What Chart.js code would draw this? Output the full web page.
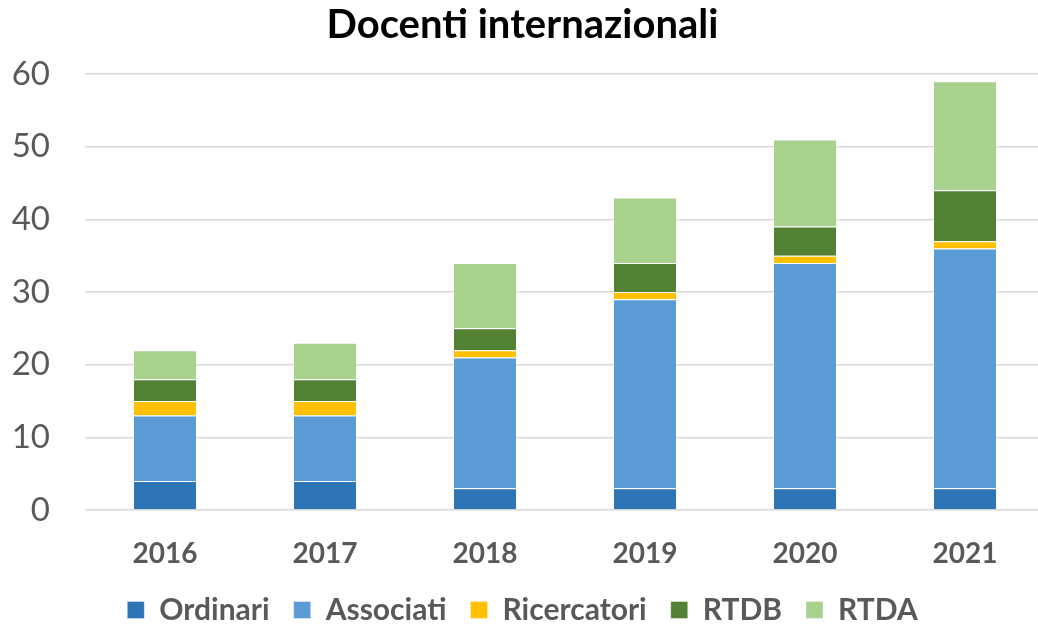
<!DOCTYPE html>
<html lang="it">
<head>
    <meta charset="UTF-8">
    <title>Docenti internazionali</title>
    <script src="https://cdn.jsdelivr.net/npm/chart.js@4.4.1/dist/chart.umd.min.js"></script>
    <style>
        html, body { margin: 0; background: #fff; overflow: hidden; }
        #wrap { width: 1045px; height: 627px; }
    </style>
</head>
<body>
<div id="wrap"><canvas id="myChart"></canvas></div>
<script>

    const anni = ["2016", "2017", "2018", "2019", "2020", "2021"];
    const ordinari = [4, 4, 3, 3, 3, 3];
    const associati = [9, 9, 18, 26, 31, 33];
    const ricercatori = [2, 2, 1, 1, 1, 1];
    const rtdb = [3, 3, 3, 4, 4, 7];
    const rtda = [4, 5, 9, 9, 12, 15];
    const yTicks = [0, 10, 20, 30, 40, 50, 60];

    const FONT = "Lato, 'Open Sans', sans-serif";
    const GREY = "#595959";

    function serie(label, data, color) {
        return {
            label: label,
            data: data,
            backgroundColor: color,
            borderColor: "rgba(255,255,255,0.35)",
            borderWidth: 1,
            barPercentage: 0.4,
            categoryPercentage: 1.0
        };
    }

    const myChart = new Chart("myChart", {
        type: "bar",
        data: {
            labels: anni,
            datasets: [
                serie("Ordinari", ordinari, "#2E75B6"),
                serie("Associati", associati, "#5B9BD5"),
                serie("Ricercatori", ricercatori, "#FFC000"),
                serie("RTDB", rtdb, "#548235"),
                serie("RTDA", rtda, "#A9D18E")
            ]
        },
        options: {
            responsive: true,
            maintainAspectRatio: false,
            animation: false,
            // negative bottom padding pushes the legend down to the edge like in Excel
            layout: { padding: { left: 0, right: 0, top: 0, bottom: -8 } },
            plugins: {
                title: {
                    display: true,
                    text: "Docenti internazionali",
                    color: "#000",
                    font: { family: FONT, size: 40, weight: "bold" },
                    padding: { top: 1, bottom: 25 }
                },
                legend: {
                    position: "bottom",
                    labels: {
                        color: GREY,
                        font: { family: FONT, size: 30, weight: "bold" },
                        boxWidth: 17,
                        boxHeight: 17,
                        padding: 24
                    }
                },
                tooltip: { enabled: false }
            },
            scales: {
                x: {
                    stacked: true,
                    afterFit: (axis) => { axis.height = 61; },
                    grid: { display: false, drawTicks: false },
                    border: { display: false },
                    ticks: {
                        color: GREY,
                        font: { family: FONT, size: 28, weight: "bold" },
                        padding: 27
                    }
                },
                y: {
                    stacked: true,
                    min: 0,
                    max: 60,
                    afterBuildTicks: (axis) => { axis.ticks = yTicks.map(v => ({ value: v })); },
                    afterFit: (axis) => { axis.width = 85; },
                    grid: { color: "#D9D9D9", lineWidth: 1.5, drawTicks: false },
                    border: { display: false },
                    ticks: {
                        color: GREY,
                        font: { family: FONT, size: 33 },
                        padding: 35
                    }
                }
            }
        }
    });
</script>
</body>
</html>
